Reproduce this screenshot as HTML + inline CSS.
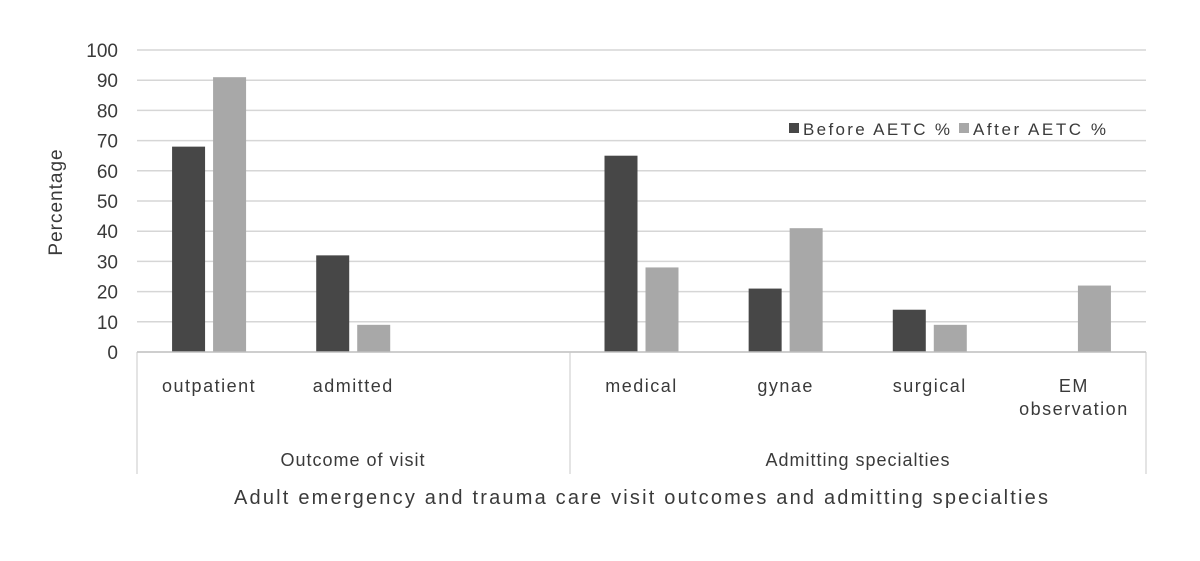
<!DOCTYPE html>
<html><head><meta charset="utf-8"><style>
body{margin:0;background:#fff;}
svg text{font-family:"Liberation Sans",sans-serif;fill:#3a3a3a;}
</style></head><body>
<svg width="1200" height="556" viewBox="0 0 1200 556">
<g id="grid"></g>
<g id="ylab"></g>
<g id="bars"></g>
<g id="xlab"></g>
<line x1="137" y1="352" x2="1146" y2="352" stroke="#bdbdbd" stroke-width="1.5"/>
<line x1="137" y1="352" x2="137" y2="474" stroke="#c8c8c8"/>
<line x1="570" y1="352" x2="570" y2="474" stroke="#c8c8c8"/>
<line x1="1146" y1="352" x2="1146" y2="474" stroke="#c8c8c8"/>
<text x="353" y="466" font-size="18" letter-spacing="1" text-anchor="middle">Outcome of visit</text>
<text x="858" y="466" font-size="18" letter-spacing="1" text-anchor="middle">Admitting specialties</text>
<text x="234" y="504" font-size="20" textLength="814" lengthAdjust="spacing">Adult  emergency and trauma care visit outcomes and admitting specialties</text>
<text transform="translate(62,202) rotate(-90)" font-size="19" letter-spacing="1" text-anchor="middle">Percentage</text>
<g>
<rect x="789" y="123" width="10" height="10" fill="#474747"/>
<text x="803" y="135" font-size="17" textLength="147" lengthAdjust="spacing">Before AETC %</text>
<rect x="959" y="123" width="10" height="10" fill="#a8a8a8"/>
<text x="973" y="135" font-size="17" textLength="133" lengthAdjust="spacing">After AETC %</text>
</g>
</svg>
<script>
const categories=["outpatient","admitted","","medical","gynae","surgical","EM|observation"];
const beforeVals=[68,32,null,65,21,14,0];
const afterVals=[91,9,null,28,41,9,22];
const yTicks=[0,10,20,30,40,50,60,70,80,90,100];
const ns="http://www.w3.org/2000/svg";
const x0=137,x1=1146,yBase=352,yTop=50;
const slot=(x1-x0)/categories.length;
const y=v=>yBase-(v/100)*(yBase-yTop);
const xc=i=>x0+slot*(i+0.5);
function mk(t,a){const e=document.createElementNS(ns,t);for(const k in a)e.setAttribute(k,a[k]);return e;}
const grid=document.getElementById('grid'),ylab=document.getElementById('ylab'),bars=document.getElementById('bars'),xlab=document.getElementById('xlab');
yTicks.forEach(t=>{
 if(t>0){const l=mk('line',{x1:x0,x2:x1,y1:y(t),y2:y(t),stroke:'#d6d6d6','stroke-width':1.5});
 
 
 grid.appendChild(l);}
 const tx=mk('text',{x:118,y:y(t)+7,'font-size':19,'text-anchor':'end'});
 tx.textContent=t;
 
 
 ylab.appendChild(tx);
});
const bw=33;
categories.forEach((c,i)=>{
 const cx=xc(i);
 if(beforeVals[i]!=null&&beforeVals[i]>0){const r=mk('rect',{x:cx-bw-4,y:y(beforeVals[i]),width:bw,height:yBase-y(beforeVals[i]),fill:'#474747'});
 
 
 bars.appendChild(r);}
 if(afterVals[i]!=null&&afterVals[i]>0){const r=mk('rect',{x:cx+4,y:y(afterVals[i]),width:bw,height:yBase-y(afterVals[i]),fill:'#a8a8a8'});
 
 
 bars.appendChild(r);}
 if(c){c.split('|').forEach((s,j)=>{const t=mk('text',{x:cx,y:392+j*23,'font-size':18,'letter-spacing':1.5,'text-anchor':'middle'});
 t.textContent=s;
 
 
 xlab.appendChild(t);});}
});
</script>
</body></html>
